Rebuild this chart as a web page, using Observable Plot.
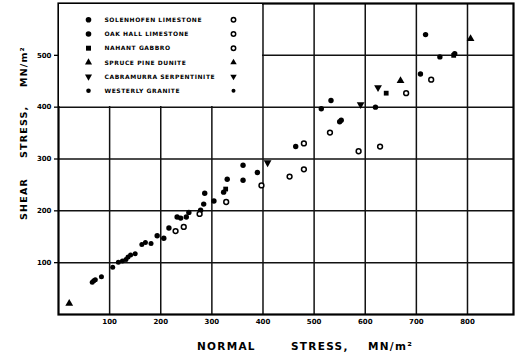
<!DOCTYPE html>
<html>
<head>
<meta charset="utf-8">
<script src="https://cdn.jsdelivr.net/npm/d3@7"></script>
<script src="https://cdn.jsdelivr.net/npm/@observablehq/plot@0.6"></script>
<style>
  body { margin: 0; background: #fff; }
  #chart { position: relative; width: 516px; height: 363px; font-family: "DejaVu Sans", sans-serif; color: #000; }
  #chart svg { display: block; }
  .title { position: absolute; font-weight: bold; white-space: pre; line-height: 1; }
  .title span { position: absolute; top: 0; }
  #legend { position: absolute; background: #fff; }
</style>
</head>
<body>
<div id="chart"></div>
<script>
// Friction data: [normal stress, shear stress] in MN/m²
const solenhofenFilled = [[193,152],[206,147],[216,167],[232,188],[239,186],[250,188],[255,197],[278,201],[284,213],[286,234],[304,219],[323,236],[330,261],[361,288],[361,259],[389,274]];
const solenhofenOpen = [[229,161],[245,169],[276,194],[328,217],[397,249],[452,266],[480,280]];
const oakHallFilled = [[464,324],[514,397],[533,413],[550,372],[553,375],[620,400],[708,464],[746,497],[775,503],[718,540]];
const oakHallOpen = [[480,330],[531,351],[587,315],[629,324],[680,427],[729,453]];
const nahantGabbro = [[327,242],[641,427],[773,500]];
const sprucePineDunite = [[21,21],[669,451],[806,532]];
const cabramurraSerpentinite = [[409,293],[591,405],[625,438]];
const westerlyGranite = [[66,62],[69,65],[72,67],[84,73],[106,91],[117,101],[125,103],[132,106],[136,111],[141,115],[150,117],[163,135],[170,139],[181,137]];

const xTicks = [100, 200, 300, 400, 500, 600, 700, 800];
const yTicks = [100, 200, 300, 400, 500];

const legendNames = ["SOLENHOFEN LIMESTONE", "OAK HALL LIMESTONE", "NAHANT GABBRO", "SPRUCE PINE DUNITE", "CABRAMURRA SERPENTINITE", "WESTERLY GRANITE"];

// Inverted triangle symbol (d3 has only the upward one)
const sqrt3 = Math.sqrt(3);
const triangleDown = {
  draw(context, size) {
    const y = -Math.sqrt(size / (sqrt3 * 3));
    context.moveTo(0, -y * 2);
    context.lineTo(-sqrt3 * y, y);
    context.lineTo(sqrt3 * y, y);
    context.closePath();
  }
};

const filled = {fill: "#000", stroke: "none"};
const hollow = {fill: "#fff", stroke: "#000", strokeWidth: 1.5};
const dots = (data, symbol, style, r) =>
  Plot.dot(data, {x: d => d[0], y: d => d[1], symbol, r, ...style});

const plot = Plot.plot({
  width: 516,
  height: 363,
  marginLeft: 58,
  marginRight: 3,
  marginTop: 3,
  marginBottom: 49,
  x: {domain: [0, 890], label: null},
  y: {domain: [0, 600], label: null},
  style: {fontFamily: "DejaVu Sans", fontSize: "7px", fontWeight: "bold", background: "#fff", color: "#000"},
  marks: [
    Plot.gridX(xTicks, {stroke: "#111", strokeOpacity: 1, strokeWidth: 1.5}),
    Plot.gridY(yTicks, {stroke: "#111", strokeOpacity: 1, strokeWidth: 1.5}),
    Plot.axisX(xTicks, {tickSize: 0, tickPadding: 5, label: null}),
    Plot.axisY(yTicks, {tickSize: 4, tickPadding: 3, label: null, strokeWidth: 1.3}),
    Plot.frame({stroke: "#000", strokeWidth: 2.2}),
    dots(westerlyGranite, "circle", filled, 2.5),
    dots(solenhofenFilled, "circle", filled, 2.7),
    dots(oakHallFilled, "circle", filled, 2.7),
    dots(nahantGabbro, "square", filled, 2.7),
    dots(sprucePineDunite, "triangle", filled, 2.9),
    dots(cabramurraSerpentinite, triangleDown, filled, 2.9),
    dots(solenhofenOpen, "circle", hollow, 2.4),
    dots(oakHallOpen, "circle", hollow, 2.4)
  ]
});

const chart = document.getElementById("chart");
chart.appendChild(plot);

// Legend box fills the upper-left grid cells (normal < 400, shear > 400)
const sx = plot.scale("x"), sy = plot.scale("y");
const lx0 = sx.apply(0) + 1.2, ly0 = sy.apply(600) + 1.2;
const lw = sx.apply(400) - 0.8 - lx0, lh = sy.apply(400) - 0.8 - ly0;
const legend = document.createElement("div");
legend.id = "legend";
Object.assign(legend.style, {left: lx0 + "px", top: ly0 + "px", width: lw + "px", height: lh + "px"});
chart.appendChild(legend);

const leftSymbols = [
  {type: d3.symbolCircle, r: 2.8, fill: true},
  {type: d3.symbolCircle, r: 2.8, fill: true},
  {type: d3.symbolSquare, r: 2.8, fill: true},
  {type: d3.symbolTriangle, r: 2.6, fill: true},
  {type: triangleDown, r: 2.6, fill: true},
  {type: d3.symbolCircle, r: 2.3, fill: true}
];
const rightSymbols = [
  {type: d3.symbolCircle, r: 2.2, fill: false},
  {type: d3.symbolCircle, r: 2.2, fill: false},
  {type: d3.symbolCircle, r: 2.2, fill: false},
  {type: d3.symbolTriangle, r: 2.4, fill: true},
  {type: triangleDown, r: 2.4, fill: true},
  {type: d3.symbolCircle, r: 2.0, fill: true}
];

const lsvg = d3.select(legend).append("svg")
  .attr("width", lw).attr("height", lh)
  .style("font-family", "DejaVu Sans").style("font-weight", "bold");
const rowY = i => 15.8 + i * 14.2;
const drawSym = (g, s, x, y) => g.append("path")
  .attr("transform", `translate(${x},${y})`)
  .attr("d", d3.symbol(s.type, Math.PI * s.r * s.r)())
  .attr("fill", s.fill ? "#000" : "#fff")
  .attr("stroke", s.fill ? "none" : "#000")
  .attr("stroke-width", 1.5);
legendNames.forEach((name, i) => {
  drawSym(lsvg, leftSymbols[i], 29.5, rowY(i));
  drawSym(lsvg, rightSymbols[i], 174.5, rowY(i));
  lsvg.append("text")
    .attr("x", 45.5).attr("y", rowY(i)).attr("dy", "0.36em")
    .attr("font-size", 6).attr("letter-spacing", 0.55)
    .text(name);
});

// Axis titles
const xTitle = document.createElement("div");
xTitle.className = "title";
Object.assign(xTitle.style, {left: "0px", top: "341px", fontSize: "10.5px", letterSpacing: "1.3px"});
xTitle.innerHTML = '<span style="left:197px">NORMAL</span><span style="left:291px">STRESS,</span><span style="left:368px">MN/m²</span>';
chart.appendChild(xTitle);

const yTitle = document.createElement("div");
yTitle.className = "title";
Object.assign(yTitle.style, {left: "-61px", top: "128px", width: "172px", height: "12px", fontSize: "9.5px", letterSpacing: "1.2px", transform: "rotate(-90deg)", transformOrigin: "50% 50%"});
yTitle.innerHTML = '<span style="left:0px">SHEAR</span><span style="left:62px">STRESS,</span><span style="left:133px">MN/m²</span>';
chart.appendChild(yTitle);
</script>
</body>
</html>
